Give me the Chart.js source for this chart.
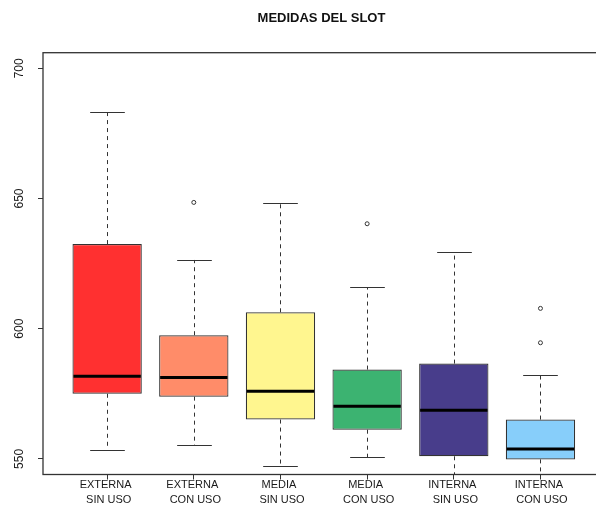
<!DOCTYPE html>
<html><head><meta charset="utf-8">
<script src="https://cdn.jsdelivr.net/npm/chart.js@4/dist/chart.umd.min.js"></script>
<style>html,body{margin:0;padding:0;background:#fff;overflow:hidden;}canvas{display:block;}</style>
</head><body>
<canvas id="c" width="643" height="508" style="width:643px;height:508px"></canvas>
<script>
// ---- data ----
const categories = ['EXTERNA SIN USO','EXTERNA CON USO','MEDIA SIN USO','MEDIA CON USO','INTERNA SIN USO','INTERNA CON USO'];
const tickLabels = [['EXTERNA ',' SIN USO'],['EXTERNA ',' CON USO'],['MEDIA ',' SIN USO'],['MEDIA ',' CON USO'],['INTERNA ',' SIN USO'],['INTERNA ',' CON USO']];
const whiskerLow  = [553.5, 555.3, 547.4, 550.6, 540.0, 542.0];
const q1          = [575.0, 573.9, 565.1, 561.2, 551.0, 549.8];
const median      = [581.7, 581.3, 576.0, 570.2, 568.7, 553.8];
const q3          = [632.5, 597.5, 606.3, 584.3, 586.6, 565.1];
const whiskerHigh = [683.3, 626.4, 648.3, 615.9, 629.6, 582.2];
const outliers    = [[], [648.5], [], [640.3], [], [607.8, 594.6]];
const yTicks      = [550, 600, 650, 700];
const yRange      = [550, 700];
const boxColors   = ['#FF3030','#FF8C69','#FFF68F','#3CB371','#483D8B','#87CEFA'];

const FONT = '"Liberation Sans", Arial, Helvetica, sans-serif';
const yExt = (yRange[1]-yRange[0])*0.04;          // R-style 4% axis extension
const xExt = categories.length*0.04;              // (n) * 4%

const boxData = categories.map((c,i)=>({x:i, y:[q1[i], q3[i]]}));
const outlierData = [];
outliers.forEach((arr,i)=>arr.forEach(v=>outlierData.push({x:i, y:v})));

const boxPlugin = {
  id:'boxExtras',
  beforeDatasetsDraw(chart){
    const {ctx, chartArea:a, scales:{x, y}} = chart;
    ctx.save();
    ctx.beginPath(); ctx.rect(a.left, a.top, a.right-a.left, a.bottom-a.top); ctx.clip();
    ctx.strokeStyle = '#333'; ctx.lineWidth = 1;
    categories.forEach((c,i)=>{
      const px = Math.round(x.getPixelForValue(i)) + 0.5;
      const capHalf = (x.getPixelForValue(i+0.2) - x.getPixelForValue(i));
      ctx.setLineDash([4,4]);
      ctx.beginPath();
      ctx.moveTo(px, y.getPixelForValue(q3[i])); ctx.lineTo(px, y.getPixelForValue(whiskerHigh[i]));
      ctx.moveTo(px, y.getPixelForValue(q1[i])); ctx.lineTo(px, y.getPixelForValue(whiskerLow[i]));
      ctx.stroke();
      ctx.setLineDash([]);
      ctx.beginPath();
      [whiskerHigh[i], whiskerLow[i]].forEach(v=>{
        const py = Math.round(y.getPixelForValue(v)) + 0.5;
        ctx.moveTo(px-capHalf, py); ctx.lineTo(px+capHalf, py);
      });
      ctx.stroke();
    });
    ctx.restore();
  },
  afterDatasetsDraw(chart){
    const {ctx, chartArea:a, scales:{x, y}} = chart;
    ctx.save();
    ctx.beginPath(); ctx.rect(a.left, a.top, a.right-a.left, a.bottom-a.top); ctx.clip();
    ctx.strokeStyle = '#000'; ctx.lineWidth = 3;
    categories.forEach((c,i)=>{
      const half = (x.getPixelForValue(i+0.4) - x.getPixelForValue(i));
      const px = x.getPixelForValue(i);
      const py = y.getPixelForValue(median[i]);
      ctx.beginPath(); ctx.moveTo(px-half+1, py); ctx.lineTo(px+half-1, py); ctx.stroke();
    });
    ctx.restore();
  },
  afterDraw(chart){
    const {ctx, chartArea:a, scales:{y}} = chart;
    ctx.save();
    ctx.strokeStyle = '#333'; ctx.lineWidth = 1.3;
    ctx.strokeRect(a.left, a.top, a.right-a.left, a.bottom-a.top);
    ctx.fillStyle = '#1a1a1a';
    ctx.font = '12px ' + FONT;
    ctx.textAlign = 'center'; ctx.textBaseline = 'middle';
    yTicks.forEach(v=>{
      ctx.save();
      ctx.translate(19.5, y.getPixelForValue(v));
      ctx.rotate(-Math.PI/2);
      ctx.fillText(String(v), 0, 0);
      ctx.restore();
    });
    ctx.restore();
  }
};

new Chart(document.getElementById('c'), {
  type:'bar',
  data:{
    datasets:[
      {type:'bar', data:boxData, backgroundColor:boxColors, borderColor:'#333', borderWidth:1.2,
       borderSkipped:false, categoryPercentage:1, barPercentage:0.8, yAxisID:'y', xAxisID:'x'},
      {type:'scatter', data:outlierData, pointStyle:'circle', pointRadius:2, pointBorderWidth:1,
       pointBorderColor:'#333', pointBackgroundColor:'#fff', showLine:false, yAxisID:'y', xAxisID:'x'}
    ]
  },
  options:{
    responsive:false, devicePixelRatio:1, animation:false,
    layout:{padding:0},
    plugins:{
      legend:{display:false}, tooltip:{enabled:false},
      title:{display:true, text:'MEDIDAS DEL SLOT', color:'#111',
        font:{size:13, weight:'bold', family:FONT, lineHeight:1.2},
        padding:{top:11, bottom:26.1}}
    },
    scales:{
      x:{type:'linear', offset:false, min:-0.5-xExt, max:categories.length-0.5+xExt,
        afterBuildTicks(s){ s.ticks = categories.map((c,i)=>({value:i})); },
        afterFit(s){ s.height = 33.5; },
        grid:{drawOnChartArea:false, drawTicks:true, tickLength:5, color:'#333', offset:false},
        border:{display:false},
        ticks:{callback:(v)=>tickLabels[v], autoSkip:false, maxRotation:0, minRotation:0, padding:-3,
          color:'#1a1a1a', font:{size:11, family:FONT, lineHeight:1.45}}
      },
      y:{type:'linear', position:'left', min:yRange[0]-yExt, max:yRange[1]+yExt,
        afterBuildTicks(s){ s.ticks = yTicks.map(v=>({value:v})); },
        afterFit(s){ s.width = 43; },
        ticks:{display:false},
        grid:{drawOnChartArea:false, drawTicks:true, tickLength:5, color:'#333'},
        border:{display:false}
      },
      yR:{type:'linear', position:'right', display:true,
        ticks:{display:false}, grid:{display:false}, border:{display:false},
        afterFit(s){ s.width = 38.4; }
      }
    }
  },
  plugins:[boxPlugin]
});
</script>
</body></html>
